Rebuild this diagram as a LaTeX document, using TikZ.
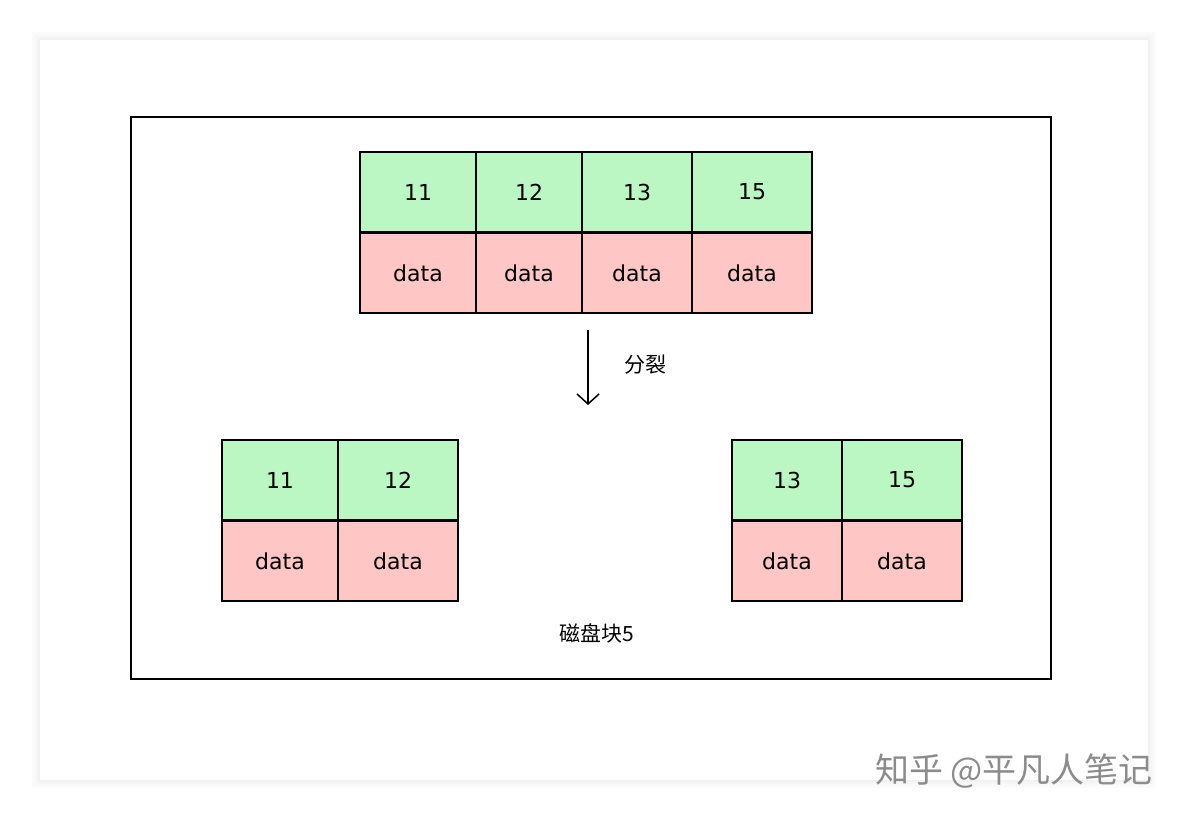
\documentclass[tikz,border=0pt]{standalone}
\usepackage{fontspec}
\setmainfont{DejaVu Sans}
\newfontfamily\cjk{Noto Sans CJK SC}
\usetikzlibrary{arrows.meta}
\definecolor{kg}{HTML}{BBF7C3}
\definecolor{dp}{HTML}{FFC6C6}
\tikzset{
 keyc/.style={draw=black,fill=kg,line width=1.5pt},
 datc/.style={draw=black,fill=dp,line width=1.5pt},
 lbl/.style={font=\fontsize{22}{26}\selectfont},
}
\begin{document}
\begin{tikzpicture}[x=1pt,y=-1pt]
\useasboundingbox (0,0) rectangle (1188,820);
\fill[white] (0,0) rectangle (1188,820);
\foreach \i/\c in {16/1.5,12/2.5,8/3.5,4/5}{
 \draw[line width=\i pt, draw=black!\c] (40,40) rectangle (1148,780);}
\fill[white] (40,40) rectangle (1148,780);
\node[draw=black,line width=1.5pt,minimum width=920pt,minimum height=562pt,anchor=north west,inner sep=0] (frame) at (130,116) {};
\foreach \a/\b/\k/\n in {360/476/11/t1,476/582/12/t2,582/692/13/t3,692/812/15/t4}{
 \draw[keyc] (\a,152) rectangle (\b,232);
 \draw[datc] (\a,232) rectangle (\b,313);
 \node[lbl] (\n k) at ({(\a+\b)/2},192) {\k};
 \node[lbl] (\n d) at ({(\a+\b)/2},273) {data};
}
\draw[line width=3pt] (360,232) -- (812,232);
\foreach \a/\b/\k/\n in {222/338/11/l1,338/458/12/l2,732/842/13/r1,842/962/15/r2}{
 \draw[keyc] (\a,440) rectangle (\b,520);
 \draw[datc] (\a,520) rectangle (\b,601);
 \node[lbl] (\n k) at ({(\a+\b)/2},480) {\k};
 \node[lbl] (\n d) at ({(\a+\b)/2},561) {data};
}
\draw[line width=3pt] (222,520) -- (458,520);
\draw[line width=3pt] (732,520) -- (962,520);
\coordinate (as) at (588,330);
\coordinate (ae) at (588,405);
\draw[-{Straight Barb[length=10pt,width=22pt]},line width=1.5pt] (as) -- (ae);
\node[font=\cjk\fontsize{21}{24}\selectfont] (split) at (645,365) {分裂};
\node[font=\cjk\fontsize{21}{24}\selectfont] (disk) at (597,633) {磁盘块5};
\node[font=\cjk\fontsize{34}{38}\selectfont,text=black!45] (wm) at (1014,771) {知乎 @平凡人笔记};
\end{tikzpicture}
\end{document}
